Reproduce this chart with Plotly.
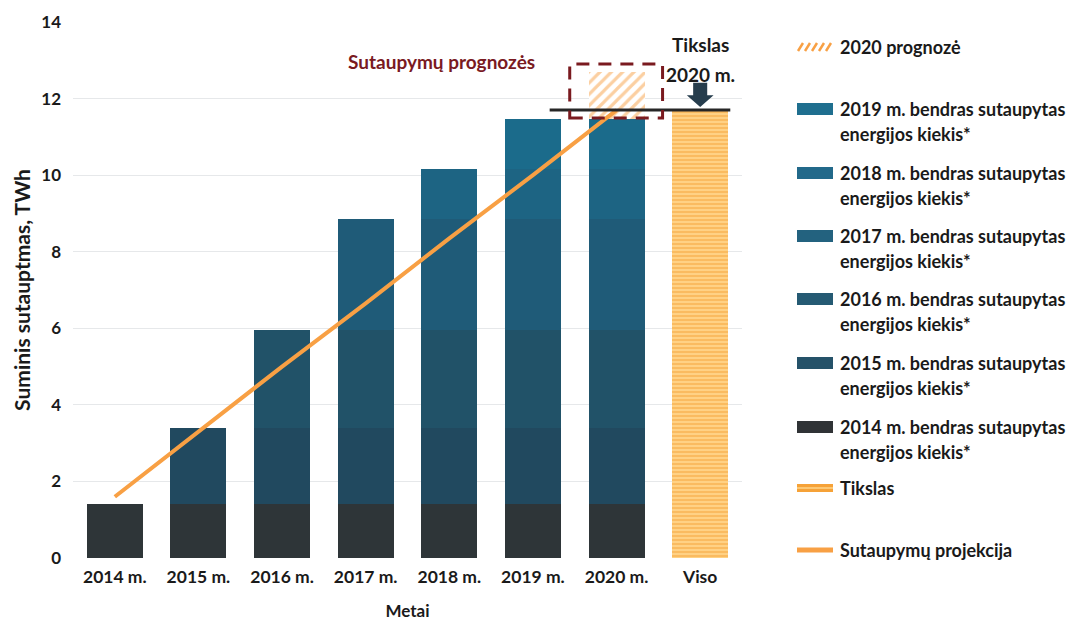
import plotly.graph_objects as go

# Data
years = ["2014 m.", "2015 m.", "2016 m.", "2017 m.", "2018 m.", "2019 m.", "2020 m."]
categories = years + ["Viso"]
cumulative_total = [1.41, 3.39, 5.95, 8.85, 10.16, 11.46, 11.46]   # TWh, bar tops
forecast_2020 = 12.7                                               # top of hatched forecast
target_2020 = 11.7                                                 # Tikslas
projection = [1.6, 3.3, 5.0, 6.65, 8.35, 10.0, 11.7]               # Sutaupymų projekcija
y_ticks = [0, 2, 4, 6, 8, 10, 12, 14]

segment_years = ["2014", "2015", "2016", "2017", "2018", "2019"]
segment_colors = ["#2e3538", "#21495f", "#215268", "#1f5b78", "#1d6483", "#1b6b8b"]
legend_colors = ["#303336", "#255269", "#255a73", "#23627f", "#22698a", "#1f6f8f"]

FONT = "Lato"
ORANGE = "#f8a044"
DARK_RED = "#7a1a1f"
TXT = "#1a1a1a"

# plot area in page pixels (page has an 8px body margin)
OFF = 8
L, R, T, B = 73, 742, 22, 558
W, H = 1066, 613


def px_x(p):
    return (p - L) / (R - L)


def px_y(p):
    return (B - p) / (B - T)


def bold(size, color=TXT):
    return dict(family=FONT, size=size, color=color, weight="bold")


fig = go.Figure()

# stacked yearly segments
prev = 0
for k, yr in enumerate(segment_years):
    inc = cumulative_total[k] - prev
    prev = cumulative_total[k]
    xs = years[k:]
    fig.add_trace(go.Bar(
        x=xs, y=[inc] * len(xs),
        name=f"{yr} m. bendras sutaupytas energijos kiekis*",
        marker=dict(color=segment_colors[k], line=dict(width=0)),
        width=0.67, showlegend=False,
    ))

# 2020 forecast (hatched) on top of the 2020 bar
fig.add_trace(go.Bar(
    x=["2020 m."], y=[forecast_2020 - cumulative_total[-1]],
    name="2020 prognozė",
    marker=dict(color="white", line=dict(width=0),
                pattern=dict(shape="/", fgcolor=ORANGE, bgcolor="white", size=8, solidity=0.4)),
    width=0.67, showlegend=False,
))

# target bar
fig.add_trace(go.Bar(
    x=["Viso"], y=[target_2020],
    name="Tikslas",
    marker=dict(color="#ffd58a", line=dict(width=0),
                pattern=dict(shape="-", fgcolor="#f6a238", bgcolor="#ffd488", size=4, solidity=0.55)),
    width=0.67, showlegend=False,
))

# projection line
fig.add_trace(go.Scatter(
    x=years, y=projection, mode="lines",
    name="Sutaupymų projekcija",
    line=dict(color=ORANGE, width=4),
    showlegend=False,
))

shapes = []
# target line
shapes.append(dict(type="line", xref="x", yref="y", x0=5.2, x1=7.36, y0=target_2020, y1=target_2020,
                   line=dict(color="#262626", width=3), layer="above"))
# dashed forecast box
shapes.append(dict(type="rect", xref="x", yref="y", x0=5.44, x1=6.55, y0=11.49, y1=12.9,
                   line=dict(color=DARK_RED, width=3, dash="13px,9px"), layer="above"))
# downward arrow over the target bar
ax = 7
shapes.append(dict(type="path", xref="x", yref="y", layer="above",
                   path=(f"M {ax-0.084} 12.41 L {ax+0.084} 12.41 L {ax+0.084} 12.09 "
                         f"L {ax+0.16} 12.09 L {ax} 11.78 L {ax-0.16} 12.09 L {ax-0.084} 12.09 Z"),
                   fillcolor="#263d4d", line=dict(width=0)))

annotations = [
    dict(x=3.91, y=12.98, xref="x", yref="y", text="Sutaupymų prognozės", showarrow=False,
         font=bold(19, DARK_RED)),
    dict(x=7, y=13.4, xref="x", yref="y", text="Tikslas", showarrow=False, font=bold(19)),
    dict(x=7, y=12.62, xref="x", yref="y", text="2020 m.", showarrow=False, font=bold(19)),
]

# hand drawn legend on the right
sx0, sx1, tx = 797, 833, 838
legend_rows = [("2020 prognozė", None, 47, "hatch", None)]
row_y = [109, 173, 236, 299, 363, 427]
for i, yr in enumerate(reversed(segment_years)):
    legend_rows.append((f"{yr} m. bendras sutaupytas", "energijos kiekis*", row_y[i], "box",
                        legend_colors[::-1][i]))
legend_rows.append(("Tikslas", None, 488, "target", None))
legend_rows.append(("Sutaupymų projekcija", None, 550, "line", None))

for line1, line2, yc, kind, col in legend_rows:
    if kind == "hatch":
        for j in range(5):
            x0 = sx0 + 1 + j * 7
            shapes.append(dict(type="line", xref="paper", yref="paper",
                               x0=px_x(x0), x1=px_x(x0 + 5), y0=px_y(yc + 4), y1=px_y(yc - 4),
                               line=dict(color=ORANGE, width=2.5)))
    elif kind == "box":
        shapes.append(dict(type="rect", xref="paper", yref="paper",
                           x0=px_x(sx0), x1=px_x(sx1), y0=px_y(yc + 6), y1=px_y(yc - 6),
                           fillcolor=col, line=dict(width=0)))
    elif kind == "target":
        shapes.append(dict(type="rect", xref="paper", yref="paper",
                           x0=px_x(sx0), x1=px_x(sx1), y0=px_y(yc + 4), y1=px_y(yc - 4),
                           fillcolor="#f6a238", line=dict(width=0)))
        shapes.append(dict(type="line", xref="paper", yref="paper",
                           x0=px_x(sx0), x1=px_x(sx1), y0=px_y(yc), y1=px_y(yc),
                           line=dict(color="#ffd488", width=1.5)))
    else:
        shapes.append(dict(type="line", xref="paper", yref="paper",
                           x0=px_x(sx0), x1=px_x(sx1), y0=px_y(yc), y1=px_y(yc),
                           line=dict(color=ORANGE, width=5)))
    annotations.append(dict(x=px_x(tx), y=px_y(yc), xref="paper", yref="paper", text=line1,
                            xanchor="left", yanchor="middle", showarrow=False, font=bold(18)))
    if line2:
        annotations.append(dict(x=px_x(tx), y=px_y(yc + 25), xref="paper", yref="paper", text=line2,
                                xanchor="left", yanchor="middle", showarrow=False, font=bold(18)))

fig.update_layout(
    barmode="stack",
    width=W, height=H,
    margin=dict(l=L - OFF, r=W - (R - OFF), t=T - OFF, b=H - (B - OFF), autoexpand=False),
    paper_bgcolor="white", plot_bgcolor="white",
    font=dict(family=FONT, size=16, color=TXT),
    shapes=shapes, annotations=annotations,
    bargap=0.33,
)
fig.update_xaxes(
    type="category", categoryorder="array", categoryarray=categories,
    range=[-0.5, 7.5], showgrid=False, showline=False, ticks="",
    tickfont=bold(17.5), ticklabelstandoff=6,
    title=dict(text="Metai", font=bold(17), standoff=19),
    automargin=False,
)
fig.update_yaxes(
    range=[0, 14], tickvals=y_ticks, showgrid=True, gridcolor="#e6e8ea", gridwidth=1,
    zeroline=False, showline=False, ticks="", ticklabelstandoff=11,
    tickfont=bold(17),
    title=dict(text="Suminis sutauptmas, TWh", font=bold(21), standoff=4),
    automargin=False,
)

fig.write_html("out.html")
